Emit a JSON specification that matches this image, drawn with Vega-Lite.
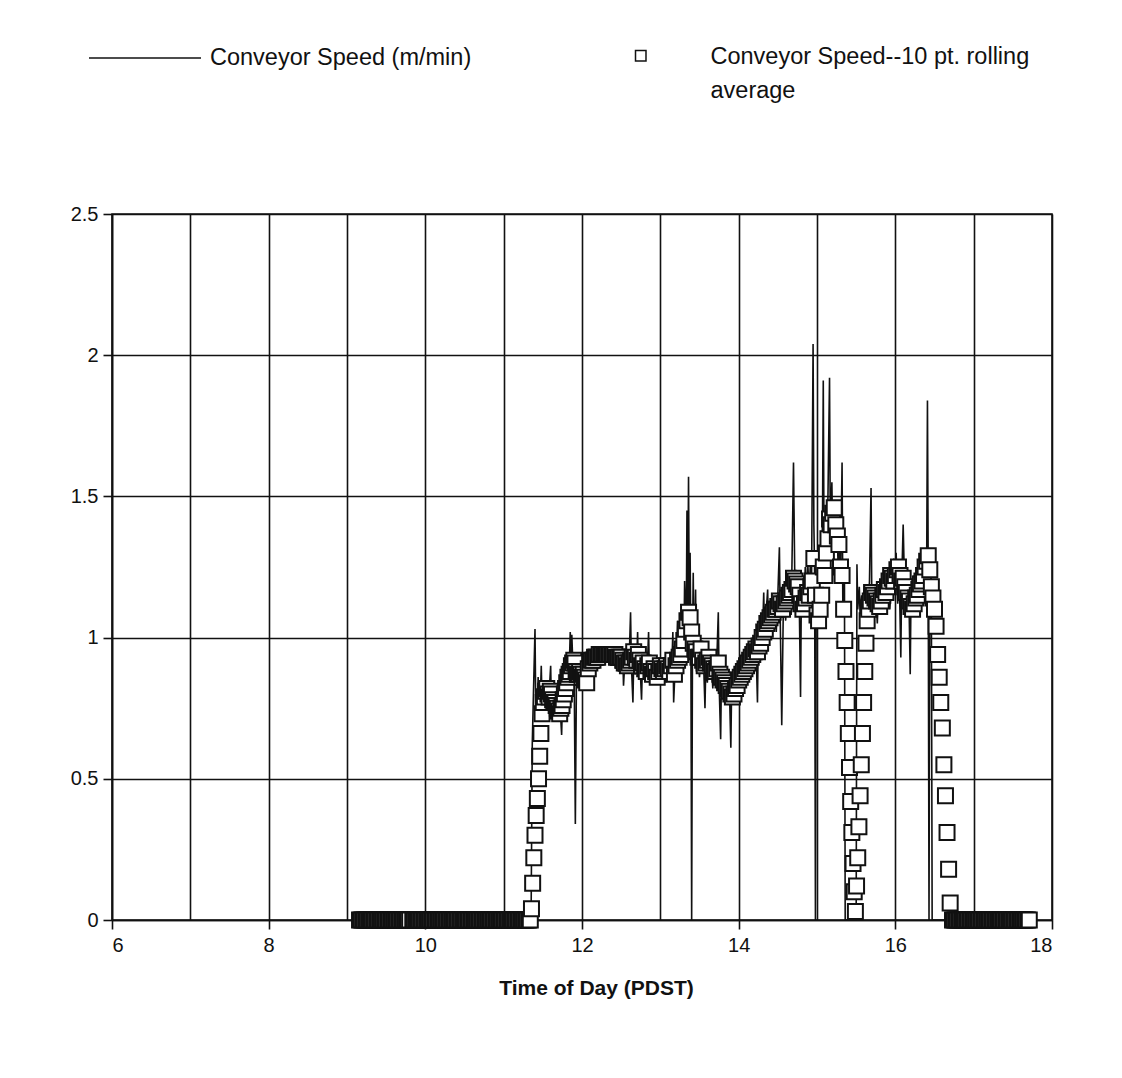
{
  "$schema": "https://vega.github.io/schema/vega-lite/v6.json",
  "autosize": {"type": "none"},
  "width": 940,
  "height": 706,
  "padding": {"left": 112, "top": 214, "right": 70, "bottom": 158},
  "background": "white",
  "config": {
    "font": "Liberation Sans",
    "view": {"stroke": "#111", "strokeWidth": 1.6},
    "style": {"guide-label": {"lineHeight": 34}},
    "axis": {
      "labelFont": "Liberation Sans",
      "labelColor": "#111",
      "labelFontSize": 20,
      "titleFont": "Liberation Sans",
      "titleColor": "#111",
      "gridColor": "#111",
      "gridOpacity": 1,
      "gridWidth": 1.6,
      "domainColor": "#111",
      "domainWidth": 1.6,
      "tickColor": "#111",
      "tickWidth": 1.6
    }
  },
  "datasets": {
    "raw": [
      {"t":9.16,"v":0},{"t":11.35,"v":0},{"t":11.365,"v":0.62},{"t":11.38,"v":0.80},{"t":11.40,"v":1.03},
      {"t":11.41,"v":0.74},{"t":11.42,"v":0.82},{"t":11.43,"v":0.76},{"t":11.44,"v":0.86},{"t":11.45,"v":0.79},
      {"t":11.46,"v":0.72},{"t":11.47,"v":0.80},{"t":11.48,"v":0.90},{"t":11.49,"v":0.77},{"t":11.50,"v":0.84},
      {"t":11.51,"v":0.74},{"t":11.52,"v":0.81},{"t":11.53,"v":0.78},{"t":11.55,"v":0.83},{"t":11.56,"v":0.76},
      {"t":11.58,"v":0.80},{"t":11.60,"v":0.90},{"t":11.61,"v":0.75},{"t":11.62,"v":0.82},{"t":11.64,"v":0.77},
      {"t":11.65,"v":0.80},{"t":11.67,"v":0.74},{"t":11.69,"v":0.79},{"t":11.70,"v":0.72},{"t":11.72,"v":0.76},
      {"t":11.74,"v":0.655},{"t":11.75,"v":0.77},{"t":11.77,"v":0.80},{"t":11.78,"v":0.83},{"t":11.80,"v":0.86},
      {"t":11.82,"v":0.88},{"t":11.84,"v":0.92},{"t":11.85,"v":1.02},{"t":11.86,"v":0.90},{"t":11.87,"v":1.01},
      {"t":11.88,"v":0.93},{"t":11.90,"v":0.88},{"t":11.915,"v":0.34},{"t":11.93,"v":0.89},{"t":11.95,"v":0.91},
      {"t":11.97,"v":0.90},{"t":11.99,"v":0.92},
      {"t":12.01,"v":0.89},{"t":12.02,"v":0.94},{"t":12.04,"v":0.88},{"t":12.05,"v":0.95},{"t":12.07,"v":0.90},
      {"t":12.08,"v":0.96},{"t":12.10,"v":0.89},{"t":12.12,"v":0.95},{"t":12.13,"v":0.90},{"t":12.15,"v":0.96},
      {"t":12.17,"v":0.91},{"t":12.18,"v":0.96},{"t":12.20,"v":0.90},{"t":12.22,"v":0.97},{"t":12.23,"v":0.91},
      {"t":12.25,"v":0.96},{"t":12.27,"v":0.92},{"t":12.28,"v":0.97},{"t":12.30,"v":0.91},{"t":12.32,"v":0.96},
      {"t":12.33,"v":0.92},{"t":12.35,"v":0.97},{"t":12.37,"v":0.90},{"t":12.38,"v":0.96},{"t":12.40,"v":0.91},
      {"t":12.42,"v":0.97},{"t":12.43,"v":0.89},{"t":12.45,"v":0.96},{"t":12.47,"v":0.88},{"t":12.48,"v":0.95},
      {"t":12.50,"v":0.90},{"t":12.52,"v":0.94},{"t":12.53,"v":0.83},{"t":12.55,"v":0.93},{"t":12.57,"v":0.88},
      {"t":12.58,"v":0.95},{"t":12.60,"v":0.90},{"t":12.62,"v":1.09},{"t":12.63,"v":0.91},{"t":12.65,"v":0.77},
      {"t":12.66,"v":0.92},{"t":12.68,"v":0.87},{"t":12.70,"v":0.93},{"t":12.71,"v":1.02},{"t":12.72,"v":0.88},
      {"t":12.74,"v":0.91},{"t":12.76,"v":0.78},{"t":12.77,"v":0.89},{"t":12.79,"v":0.85},{"t":12.81,"v":0.92},
      {"t":12.83,"v":0.86},{"t":12.85,"v":1.02},{"t":12.86,"v":0.88},{"t":12.88,"v":0.84},{"t":12.90,"v":0.90},
      {"t":12.92,"v":0.85},{"t":12.94,"v":0.89},{"t":12.96,"v":0.86},{"t":12.98,"v":0.91},
      {"t":13.00,"v":0.88},{"t":13.02,"v":0.92},{"t":13.03,"v":0.85},{"t":13.05,"v":0.90},{"t":13.07,"v":0.84},
      {"t":13.08,"v":0.93},{"t":13.10,"v":0.87},{"t":13.12,"v":0.91},{"t":13.13,"v":0.86},{"t":13.15,"v":0.93},
      {"t":13.16,"v":1.02},{"t":13.17,"v":0.77},{"t":13.19,"v":0.90},{"t":13.20,"v":0.86},{"t":13.22,"v":1.06},
      {"t":13.23,"v":0.89},{"t":13.25,"v":0.93},{"t":13.27,"v":0.88},{"t":13.28,"v":1.07},{"t":13.30,"v":0.95},
      {"t":13.31,"v":1.20},{"t":13.33,"v":1.00},{"t":13.34,"v":1.45},{"t":13.35,"v":1.10},{"t":13.36,"v":1.57},
      {"t":13.37,"v":1.05},{"t":13.38,"v":1.30},{"t":13.39,"v":0.98},{"t":13.40,"v":0},{"t":13.41,"v":0.95},
      {"t":13.42,"v":1.23},{"t":13.43,"v":0.90},{"t":13.45,"v":1.17},{"t":13.46,"v":0.88},
      {"t":13.48,"v":0.92},{"t":13.50,"v":0.86},{"t":13.52,"v":0.95},{"t":13.53,"v":0.88},{"t":13.55,"v":0.93},
      {"t":13.57,"v":0.75},{"t":13.58,"v":0.90},{"t":13.60,"v":0.84},{"t":13.62,"v":0.93},{"t":13.63,"v":0.86},
      {"t":13.65,"v":0.91},{"t":13.67,"v":0.82},{"t":13.68,"v":0.89},{"t":13.70,"v":0.85},{"t":13.72,"v":0.91},
      {"t":13.74,"v":1.09},{"t":13.75,"v":0.84},{"t":13.77,"v":0.64},{"t":13.78,"v":0.86},{"t":13.80,"v":0.80},
      {"t":13.82,"v":0.88},{"t":13.83,"v":0.78},{"t":13.85,"v":0.85},{"t":13.87,"v":0.80},{"t":13.88,"v":0.84},
      {"t":13.90,"v":0.61},{"t":13.91,"v":0.82},{"t":13.93,"v":0.78},{"t":13.95,"v":0.85},{"t":13.97,"v":0.80},
      {"t":13.98,"v":0.87},
      {"t":14.00,"v":0.84},{"t":14.02,"v":0.90},{"t":14.03,"v":0.82},{"t":14.05,"v":0.92},{"t":14.07,"v":0.85},
      {"t":14.08,"v":0.94},{"t":14.10,"v":0.87},{"t":14.12,"v":0.96},{"t":14.13,"v":0.88},{"t":14.15,"v":0.97},
      {"t":14.17,"v":0.90},{"t":14.18,"v":1.00},{"t":14.20,"v":0.91},{"t":14.22,"v":0.98},{"t":14.24,"v":0.77},
      {"t":14.25,"v":1.00},{"t":14.27,"v":0.94},{"t":14.28,"v":1.05},{"t":14.30,"v":0.97},{"t":14.32,"v":1.16},
      {"t":14.33,"v":1.00},{"t":14.35,"v":1.08},{"t":14.37,"v":1.17},{"t":14.38,"v":1.02},{"t":14.40,"v":1.10},
      {"t":14.42,"v":1.03},{"t":14.43,"v":1.12},{"t":14.45,"v":1.05},{"t":14.47,"v":1.14},{"t":14.48,"v":1.02},
      {"t":14.50,"v":1.15},{"t":14.52,"v":1.32},{"t":14.53,"v":1.08},{"t":14.55,"v":0.69},{"t":14.57,"v":1.10},
      {"t":14.58,"v":1.18},{"t":14.60,"v":1.06},{"t":14.62,"v":1.20},{"t":14.63,"v":1.10},{"t":14.65,"v":1.22},
      {"t":14.67,"v":1.08},{"t":14.68,"v":1.25},{"t":14.70,"v":1.62},{"t":14.72,"v":1.12},{"t":14.73,"v":1.24},
      {"t":14.75,"v":1.10},{"t":14.77,"v":1.20},{"t":14.79,"v":0.79},{"t":14.80,"v":1.15},{"t":14.82,"v":1.22},
      {"t":14.83,"v":1.08},{"t":14.85,"v":1.25},{"t":14.87,"v":1.12},{"t":14.88,"v":1.28},{"t":14.90,"v":1.15},
      {"t":14.92,"v":1.30},{"t":14.93,"v":1.18},{"t":14.95,"v":2.04},{"t":14.96,"v":1.40},{"t":14.97,"v":1.22},
      {"t":14.98,"v":0},{"t":14.99,"v":1.20},
      {"t":15.00,"v":1.25},{"t":15.02,"v":1.18},{"t":15.03,"v":1.32},{"t":15.05,"v":1.22},{"t":15.07,"v":1.40},
      {"t":15.08,"v":1.91},{"t":15.09,"v":1.30},{"t":15.11,"v":1.45},{"t":15.12,"v":1.28},{"t":15.14,"v":1.50},
      {"t":15.16,"v":1.92},{"t":15.17,"v":1.38},{"t":15.19,"v":1.55},{"t":15.20,"v":1.35},{"t":15.22,"v":1.48},
      {"t":15.23,"v":1.30},{"t":15.25,"v":1.45},{"t":15.27,"v":1.25},{"t":15.28,"v":1.40},{"t":15.30,"v":1.20},
      {"t":15.32,"v":1.62},{"t":15.33,"v":1.10},{"t":15.35,"v":1.26},{"t":15.36,"v":0},{"t":15.50,"v":0},
      {"t":15.51,"v":1.26},{"t":15.52,"v":1.10},{"t":15.54,"v":1.18},{"t":15.55,"v":1.08},{"t":15.57,"v":1.15},
      {"t":15.59,"v":1.06},{"t":15.60,"v":1.19},{"t":15.62,"v":1.10},{"t":15.64,"v":1.17},{"t":15.65,"v":1.08},
      {"t":15.67,"v":1.20},{"t":15.69,"v":1.53},{"t":15.70,"v":1.12},{"t":15.72,"v":1.18},{"t":15.73,"v":1.07},
      {"t":15.75,"v":1.15},{"t":15.77,"v":1.05},{"t":15.78,"v":1.13},{"t":15.80,"v":1.08},{"t":15.82,"v":1.16},
      {"t":15.83,"v":1.10},{"t":15.85,"v":1.20},{"t":15.87,"v":1.14},{"t":15.88,"v":1.22},{"t":15.90,"v":1.12},
      {"t":15.92,"v":1.25},{"t":15.93,"v":1.10},{"t":15.95,"v":1.20},{"t":15.97,"v":1.14},{"t":15.98,"v":1.28},
      {"t":16.00,"v":1.15},{"t":16.01,"v":1.30},{"t":16.03,"v":1.12},{"t":16.05,"v":1.22},{"t":16.07,"v":0.93},
      {"t":16.08,"v":1.18},{"t":16.10,"v":1.40},{"t":16.12,"v":1.15},{"t":16.13,"v":1.24},{"t":16.15,"v":1.10},
      {"t":16.17,"v":1.20},{"t":16.19,"v":0.87},{"t":16.20,"v":1.15},{"t":16.22,"v":1.10},{"t":16.23,"v":1.22},
      {"t":16.25,"v":1.08},{"t":16.27,"v":1.18},{"t":16.28,"v":1.12},{"t":16.30,"v":1.25},{"t":16.32,"v":1.15},
      {"t":16.33,"v":1.28},{"t":16.35,"v":1.18},{"t":16.37,"v":1.30},{"t":16.38,"v":1.20},{"t":16.40,"v":1.25},
      {"t":16.41,"v":1.84},{"t":16.42,"v":1.22},{"t":16.43,"v":0},{"t":16.44,"v":1.20},{"t":16.45,"v":1.28},
      {"t":16.46,"v":1.15},{"t":16.47,"v":0},{"t":17.71,"v":0}
    ],
    "avg": [
      {"t":9.16,"a":0},{"t":9.18,"a":0},{"t":9.20,"a":0},{"t":9.22,"a":0},{"t":9.24,"a":0},{"t":9.26,"a":0},
      {"t":9.28,"a":0},{"t":9.30,"a":0},{"t":9.32,"a":0},{"t":9.34,"a":0},{"t":9.36,"a":0},{"t":9.38,"a":0},
      {"t":9.40,"a":0},{"t":9.42,"a":0},{"t":9.44,"a":0},{"t":9.46,"a":0},{"t":9.48,"a":0},{"t":9.50,"a":0},
      {"t":9.52,"a":0},{"t":9.54,"a":0},{"t":9.56,"a":0},{"t":9.58,"a":0},{"t":9.60,"a":0},{"t":9.62,"a":0},
      {"t":9.64,"a":0},{"t":9.66,"a":0},{"t":9.68,"a":0},{"t":9.70,"a":0},{"t":9.72,"a":0},{"t":9.74,"a":0},
      {"t":9.76,"a":0},{"t":9.78,"a":0},{"t":9.80,"a":0},{"t":9.84,"a":0},{"t":9.86,"a":0},{"t":9.88,"a":0},
      {"t":9.90,"a":0},{"t":9.92,"a":0},{"t":9.94,"a":0},{"t":9.96,"a":0},{"t":9.98,"a":0},{"t":10.00,"a":0},
      {"t":10.02,"a":0},{"t":10.04,"a":0},{"t":10.06,"a":0},{"t":10.08,"a":0},{"t":10.10,"a":0},{"t":10.12,"a":0},
      {"t":10.14,"a":0},{"t":10.16,"a":0},{"t":10.18,"a":0},{"t":10.20,"a":0},{"t":10.22,"a":0},{"t":10.24,"a":0},
      {"t":10.26,"a":0},{"t":10.28,"a":0},{"t":10.30,"a":0},{"t":10.32,"a":0},{"t":10.34,"a":0},{"t":10.36,"a":0},
      {"t":10.38,"a":0},{"t":10.40,"a":0},{"t":10.42,"a":0},{"t":10.44,"a":0},{"t":10.46,"a":0},{"t":10.48,"a":0},
      {"t":10.50,"a":0},{"t":10.52,"a":0},{"t":10.54,"a":0},{"t":10.56,"a":0},{"t":10.58,"a":0},{"t":10.60,"a":0},
      {"t":10.62,"a":0},{"t":10.64,"a":0},{"t":10.66,"a":0},{"t":10.68,"a":0},{"t":10.70,"a":0},{"t":10.72,"a":0},
      {"t":10.74,"a":0},{"t":10.76,"a":0},{"t":10.78,"a":0},{"t":10.80,"a":0},{"t":10.82,"a":0},{"t":10.84,"a":0},
      {"t":10.86,"a":0},{"t":10.88,"a":0},{"t":10.90,"a":0},{"t":10.92,"a":0},{"t":10.94,"a":0},{"t":10.96,"a":0},
      {"t":10.98,"a":0},{"t":11.00,"a":0},{"t":11.02,"a":0},{"t":11.04,"a":0},{"t":11.06,"a":0},{"t":11.08,"a":0},
      {"t":11.10,"a":0},{"t":11.12,"a":0},{"t":11.14,"a":0},{"t":11.16,"a":0},{"t":11.18,"a":0},{"t":11.20,"a":0},
      {"t":11.22,"a":0},{"t":11.24,"a":0},{"t":11.26,"a":0},{"t":11.28,"a":0},{"t":11.30,"a":0},{"t":11.32,"a":0},
      {"t":11.34,"a":0},{"t":11.355,"a":0.04},{"t":11.37,"a":0.13},{"t":11.385,"a":0.22},{"t":11.40,"a":0.30},
      {"t":11.415,"a":0.37},{"t":11.43,"a":0.43},{"t":11.445,"a":0.50},{"t":11.46,"a":0.58},{"t":11.475,"a":0.66},
      {"t":11.49,"a":0.73},{"t":11.505,"a":0.77},{"t":11.52,"a":0.79},{"t":11.535,"a":0.81},{"t":11.55,"a":0.82},
      {"t":11.565,"a":0.80},{"t":11.58,"a":0.79},{"t":11.595,"a":0.81},{"t":11.61,"a":0.80},{"t":11.625,"a":0.78},
      {"t":11.64,"a":0.77},{"t":11.655,"a":0.77},{"t":11.67,"a":0.76},{"t":11.685,"a":0.75},{"t":11.70,"a":0.74},
      {"t":11.715,"a":0.73},{"t":11.73,"a":0.75},{"t":11.745,"a":0.76},{"t":11.76,"a":0.78},{"t":11.775,"a":0.80},
      {"t":11.79,"a":0.82},{"t":11.805,"a":0.84},{"t":11.82,"a":0.86},{"t":11.835,"a":0.87},{"t":11.85,"a":0.88},
      {"t":11.865,"a":0.90},{"t":11.88,"a":0.91},{"t":11.895,"a":0.92},{"t":11.91,"a":0.91},{"t":11.925,"a":0.88},
      {"t":11.94,"a":0.87},{"t":11.955,"a":0.87},{"t":11.97,"a":0.88},{"t":11.985,"a":0.87},{"t":12.00,"a":0.86},
      {"t":12.015,"a":0.87},{"t":12.03,"a":0.86},{"t":12.045,"a":0.85},{"t":12.06,"a":0.84},{"t":12.08,"a":0.89},
      {"t":12.10,"a":0.91},{"t":12.12,"a":0.92},{"t":12.14,"a":0.92},{"t":12.16,"a":0.93},{"t":12.18,"a":0.93},
      {"t":12.20,"a":0.93},{"t":12.22,"a":0.94},{"t":12.24,"a":0.94},{"t":12.26,"a":0.94},{"t":12.28,"a":0.94},
      {"t":12.30,"a":0.94},{"t":12.32,"a":0.94},{"t":12.34,"a":0.94},{"t":12.36,"a":0.94},{"t":12.38,"a":0.94},
      {"t":12.40,"a":0.94},{"t":12.42,"a":0.94},{"t":12.44,"a":0.93},{"t":12.46,"a":0.93},{"t":12.48,"a":0.93},
      {"t":12.50,"a":0.93},{"t":12.52,"a":0.92},{"t":12.54,"a":0.91},{"t":12.56,"a":0.91},{"t":12.58,"a":0.90},
      {"t":12.60,"a":0.91},{"t":12.62,"a":0.92},{"t":12.64,"a":0.93},{"t":12.66,"a":0.95},{"t":12.68,"a":0.93},
      {"t":12.70,"a":0.92},{"t":12.72,"a":0.94},{"t":12.74,"a":0.92},{"t":12.76,"a":0.90},{"t":12.78,"a":0.91},
      {"t":12.80,"a":0.89},{"t":12.82,"a":0.88},{"t":12.84,"a":0.90},{"t":12.86,"a":0.91},{"t":12.88,"a":0.88},
      {"t":12.90,"a":0.87},{"t":12.92,"a":0.89},{"t":12.94,"a":0.88},{"t":12.96,"a":0.86},{"t":12.98,"a":0.88},
      {"t":13.00,"a":0.90},{"t":13.02,"a":0.89},{"t":13.04,"a":0.88},{"t":13.06,"a":0.89},{"t":13.08,"a":0.90},
      {"t":13.10,"a":0.89},{"t":13.12,"a":0.88},{"t":13.14,"a":0.90},{"t":13.16,"a":0.92},{"t":13.18,"a":0.87},
      {"t":13.20,"a":0.90},{"t":13.22,"a":0.92},{"t":13.24,"a":0.93},{"t":13.26,"a":0.94},{"t":13.28,"a":0.96},
      {"t":13.30,"a":0.99},{"t":13.32,"a":1.03},{"t":13.34,"a":1.06},{"t":13.36,"a":1.09},{"t":13.38,"a":1.07},
      {"t":13.40,"a":1.02},{"t":13.42,"a":0.98},{"t":13.44,"a":0.96},{"t":13.46,"a":0.95},{"t":13.48,"a":0.93},
      {"t":13.50,"a":0.93},{"t":13.52,"a":0.96},{"t":13.54,"a":0.92},{"t":13.56,"a":0.90},{"t":13.58,"a":0.91},
      {"t":13.60,"a":0.92},{"t":13.62,"a":0.93},{"t":13.64,"a":0.91},{"t":13.66,"a":0.90},{"t":13.68,"a":0.89},
      {"t":13.70,"a":0.88},{"t":13.72,"a":0.89},{"t":13.74,"a":0.91},{"t":13.76,"a":0.87},{"t":13.78,"a":0.86},
      {"t":13.80,"a":0.85},{"t":13.82,"a":0.84},{"t":13.84,"a":0.83},{"t":13.86,"a":0.82},{"t":13.88,"a":0.81},
      {"t":13.90,"a":0.80},{"t":13.92,"a":0.79},{"t":13.94,"a":0.80},{"t":13.96,"a":0.82},{"t":13.98,"a":0.83},
      {"t":14.00,"a":0.85},{"t":14.02,"a":0.86},{"t":14.04,"a":0.87},{"t":14.06,"a":0.88},{"t":14.08,"a":0.89},
      {"t":14.10,"a":0.90},{"t":14.12,"a":0.91},{"t":14.14,"a":0.92},{"t":14.16,"a":0.93},{"t":14.18,"a":0.94},
      {"t":14.20,"a":0.95},{"t":14.22,"a":0.96},{"t":14.24,"a":0.95},{"t":14.26,"a":0.97},{"t":14.28,"a":0.98},
      {"t":14.30,"a":1.00},{"t":14.32,"a":1.02},{"t":14.34,"a":1.03},{"t":14.36,"a":1.05},{"t":14.38,"a":1.06},
      {"t":14.40,"a":1.07},{"t":14.42,"a":1.08},{"t":14.44,"a":1.09},{"t":14.46,"a":1.10},{"t":14.48,"a":1.10},
      {"t":14.50,"a":1.11},{"t":14.52,"a":1.13},{"t":14.54,"a":1.12},{"t":14.56,"a":1.10},{"t":14.58,"a":1.12},
      {"t":14.60,"a":1.13},{"t":14.62,"a":1.14},{"t":14.64,"a":1.15},{"t":14.66,"a":1.16},{"t":14.68,"a":1.17},
      {"t":14.70,"a":1.21},{"t":14.72,"a":1.20},{"t":14.74,"a":1.19},{"t":14.76,"a":1.18},{"t":14.78,"a":1.15},
      {"t":14.80,"a":1.12},{"t":14.82,"a":1.10},{"t":14.84,"a":1.12},{"t":14.86,"a":1.14},{"t":14.88,"a":1.16},
      {"t":14.90,"a":1.15},{"t":14.92,"a":1.18},{"t":14.94,"a":1.20},{"t":14.96,"a":1.28},{"t":14.98,"a":1.15},
      {"t":15.00,"a":1.08},{"t":15.02,"a":1.06},{"t":15.04,"a":1.10},{"t":15.06,"a":1.15},{"t":15.08,"a":1.25},
      {"t":15.10,"a":1.22},{"t":15.12,"a":1.30},{"t":15.14,"a":1.35},{"t":15.16,"a":1.42},{"t":15.18,"a":1.40},
      {"t":15.20,"a":1.44},{"t":15.22,"a":1.46},{"t":15.24,"a":1.40},{"t":15.26,"a":1.36},{"t":15.28,"a":1.33},
      {"t":15.30,"a":1.25},{"t":15.32,"a":1.22},{"t":15.34,"a":1.10},{"t":15.355,"a":0.99},{"t":15.37,"a":0.88},
      {"t":15.385,"a":0.77},{"t":15.40,"a":0.66},{"t":15.415,"a":0.54},{"t":15.43,"a":0.42},{"t":15.445,"a":0.31},
      {"t":15.46,"a":0.20},{"t":15.475,"a":0.10},{"t":15.49,"a":0.03},{"t":15.505,"a":0.12},{"t":15.52,"a":0.22},
      {"t":15.535,"a":0.33},{"t":15.55,"a":0.44},{"t":15.565,"a":0.55},{"t":15.58,"a":0.66},{"t":15.595,"a":0.77},
      {"t":15.61,"a":0.88},{"t":15.625,"a":0.98},{"t":15.64,"a":1.06},{"t":15.66,"a":1.10},{"t":15.68,"a":1.13},
      {"t":15.70,"a":1.16},{"t":15.72,"a":1.15},{"t":15.74,"a":1.14},{"t":15.76,"a":1.13},{"t":15.78,"a":1.12},
      {"t":15.80,"a":1.11},{"t":15.82,"a":1.13},{"t":15.84,"a":1.15},{"t":15.86,"a":1.17},{"t":15.88,"a":1.16},
      {"t":15.90,"a":1.18},{"t":15.92,"a":1.20},{"t":15.94,"a":1.22},{"t":15.96,"a":1.21},{"t":15.98,"a":1.20},
      {"t":16.00,"a":1.22},{"t":16.02,"a":1.24},{"t":16.04,"a":1.25},{"t":16.06,"a":1.22},{"t":16.08,"a":1.20},
      {"t":16.10,"a":1.21},{"t":16.12,"a":1.18},{"t":16.14,"a":1.16},{"t":16.16,"a":1.14},{"t":16.18,"a":1.13},
      {"t":16.20,"a":1.11},{"t":16.22,"a":1.10},{"t":16.24,"a":1.12},{"t":16.26,"a":1.14},{"t":16.28,"a":1.15},
      {"t":16.30,"a":1.17},{"t":16.32,"a":1.19},{"t":16.34,"a":1.20},{"t":16.36,"a":1.22},{"t":16.38,"a":1.25},
      {"t":16.40,"a":1.27},{"t":16.42,"a":1.29},{"t":16.44,"a":1.24},{"t":16.46,"a":1.18},{"t":16.48,"a":1.14},
      {"t":16.50,"a":1.10},{"t":16.52,"a":1.04},{"t":16.54,"a":0.94},{"t":16.56,"a":0.86},{"t":16.58,"a":0.77},
      {"t":16.60,"a":0.68},{"t":16.62,"a":0.55},{"t":16.64,"a":0.44},{"t":16.66,"a":0.31},{"t":16.68,"a":0.18},
      {"t":16.70,"a":0.06},
      {"t":16.73,"a":0},{"t":16.75,"a":0},{"t":16.77,"a":0},{"t":16.79,"a":0},{"t":16.81,"a":0},{"t":16.83,"a":0},
      {"t":16.85,"a":0},{"t":16.87,"a":0},{"t":16.89,"a":0},{"t":16.91,"a":0},{"t":16.93,"a":0},{"t":16.95,"a":0},
      {"t":16.97,"a":0},{"t":16.99,"a":0},{"t":17.01,"a":0},{"t":17.03,"a":0},{"t":17.05,"a":0},{"t":17.07,"a":0},
      {"t":17.09,"a":0},{"t":17.11,"a":0},{"t":17.13,"a":0},{"t":17.15,"a":0},{"t":17.17,"a":0},{"t":17.19,"a":0},
      {"t":17.21,"a":0},{"t":17.23,"a":0},{"t":17.25,"a":0},{"t":17.27,"a":0},{"t":17.29,"a":0},{"t":17.31,"a":0},
      {"t":17.33,"a":0},{"t":17.35,"a":0},{"t":17.37,"a":0},{"t":17.39,"a":0},{"t":17.41,"a":0},{"t":17.43,"a":0},
      {"t":17.45,"a":0},{"t":17.47,"a":0},{"t":17.49,"a":0},{"t":17.51,"a":0},{"t":17.53,"a":0},{"t":17.55,"a":0},
      {"t":17.57,"a":0},{"t":17.59,"a":0},{"t":17.61,"a":0},{"t":17.63,"a":0},{"t":17.65,"a":0},{"t":17.67,"a":0},
      {"t":17.69,"a":0},{"t":17.71,"a":0}
    ]
  },
  "encoding": {
    "x": {
      "field": "t",
      "type": "quantitative",
      "scale": {"domain": [6, 18], "nice": false, "zero": false},
      "axis": {
        "values": [6, 7, 8, 9, 10, 11, 12, 13, 14, 15, 16, 17, 18],
        "labelExpr": "datum.value % 2 === 0 ? datum.label : ''",
        "tickSize": 9,
        "tickOpacity": {"condition": {"test": "datum.value % 2 === 0", "value": 1}, "value": 0},
        "labelPadding": 6,
        "title": "Time of Day (PDST)",
        "titleFontSize": 21,
        "titleFontWeight": "bold",
        "titleX": 484,
        "titlePadding": 22
      }
    }
  },
  "layer": [
    {
      "data": {"name": "raw"},
      "mark": {"type": "line", "strokeWidth": 1.6, "interpolate": "linear"},
      "encoding": {
        "y": {
          "field": "v",
          "type": "quantitative",
          "scale": {"domain": [0, 2.5], "nice": false},
          "axis": {
            "values": [0, 0.5, 1, 1.5, 2, 2.5],
            "format": "~g",
            "tickSize": 9,
            "labelPadding": 5,
            "title": null
          }
        },
        "stroke": {
          "datum": "Conveyor Speed (m/min)",
          "scale": {"range": ["#111"]},
          "legend": {
            "orient": "none",
            "legendX": -24,
            "legendY": -213,
            "title": null,
            "symbolType": "stroke",
            "symbolSize": 12544,
            "symbolStrokeWidth": 1.6,
            "labelFontSize": 23.5,
            "labelColor": "#111",
            "labelOffset": 8,
            "labelLimit": 500
          }
        }
      }
    },
    {
      "data": {"name": "avg"},
      "mark": {"type": "point", "shape": "square", "size": 225, "fillOpacity": 1, "stroke": "#111", "strokeWidth": 2, "opacity": 1},
      "encoding": {
        "y": {"field": "a", "type": "quantitative"},
        "fill": {
          "datum": "Conveyor Speed--10 pt. rolling average",
          "scale": {"range": ["white"]},
          "legend": {
            "orient": "none",
            "legendX": 517,
            "legendY": -181,
            "title": null,
            "symbolType": "M-1,1.1H1V3.1H-1Z",
            "symbolSize": 110,
            "symbolFillColor": "white",
            "symbolStrokeColor": "#111",
            "symbolStrokeWidth": 1.5,
            "labelFontSize": 23.5,
            "labelColor": "#111",
            "labelOffset": 58,
            "labelLimit": 600,
            "labelBaseline": "top",
            "labelExpr": "['Conveyor Speed--10 pt. rolling', 'average']",
            "encode": {
              "symbols": {
                "fill": {"value": "white"},
                "stroke": {"value": "#111"},
                "strokeWidth": {"value": 1.5},
                "opacity": {"value": 1},
                "fillOpacity": {"value": 1},
                "strokeOpacity": {"value": 1}
              }
            }
          }
        }
      }
    }
  ]
}
